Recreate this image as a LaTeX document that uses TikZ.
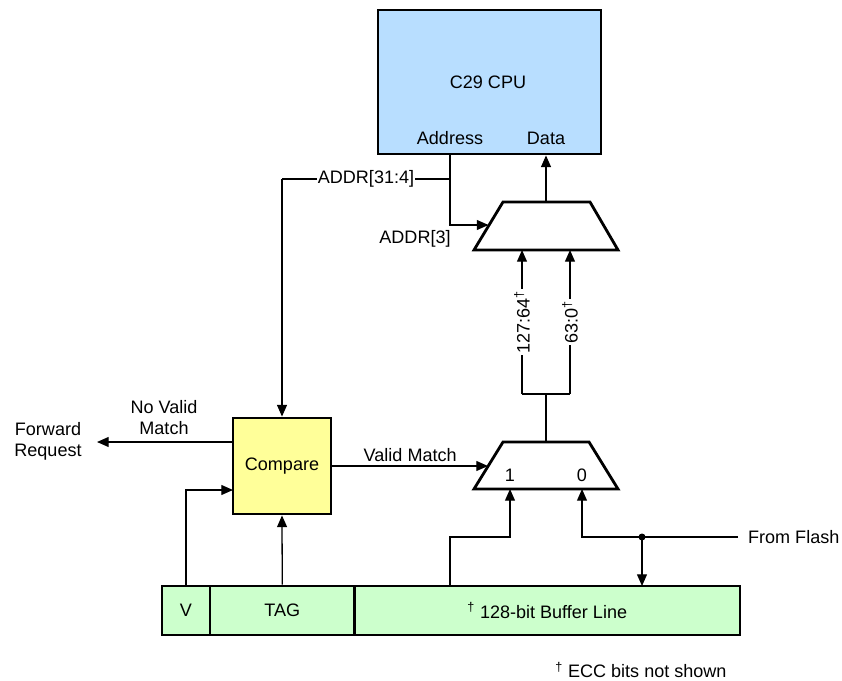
\documentclass[tikz,border=0pt]{standalone}
\usepackage{fontspec}
\setmainfont{Liberation Sans}
\usetikzlibrary{arrows.meta}
\definecolor{cpublue}{RGB}{184,222,255}
\definecolor{cmpyellow}{RGB}{255,255,153}
\definecolor{bufgreen}{RGB}{204,255,204}

\begin{document}
\begin{tikzpicture}[x=0.03cm,y=-0.03cm,font=\fontsize{15.4}{18}\selectfont,
	wire/.style={line width=1.1pt},
	arr/.style={wire,-{Triangle[length=10pt,width=8.5pt]}},
	blk/.style={draw,line width=2.4pt,inner sep=0pt},
	muxline/.style={draw,line width=2.4pt,line join=miter,fill=white},
	gap/.style={fill=white,inner sep=1pt}]
%
	\useasboundingbox (0,0) rectangle (842,681);
%
	% blocks
	\node[blk,fill=cpublue,minimum width=223*0.03cm,minimum height=144*0.03cm] (cpu) at (489.5,82) {};
	\node (cpulbl) at (488,82) {C29 CPU};
	\node (addr) at (450,138) {Address};
	\node (data) at (546,138) {Data};
	\node[blk,fill=cmpyellow,minimum width=98*0.03cm,minimum height=96*0.03cm] (cmp) at (282,466) {Compare};
	\node[blk,fill=bufgreen,minimum width=48*0.03cm,minimum height=49*0.03cm] (vbit) at (186,610.5) {V};
	\node[blk,fill=bufgreen,minimum width=144.5*0.03cm,minimum height=49*0.03cm] (tag) at (282.25,610.5) {TAG};
	\node[blk,fill=bufgreen,minimum width=385.5*0.03cm,minimum height=49*0.03cm] (line) at (547.25,610.5) {\textsuperscript{†} 128-bit Buffer Line};
%
	% muxes
	\draw[muxline] (474,250) -- (503,202) -- (590,202) -- (618,250) -- cycle;
	\draw[muxline] (474,489) -- (503,442) -- (589,442) -- (618,489) -- cycle;
	\coordinate (hisel) at (488.5,225);
	\coordinate (hiout) at (546,202);
	\coordinate (loout) at (546,442);
	\coordinate (losel) at (488,466);
	\node (one) at (510,475) {1};
	\node (zero) at (582,475) {0};
%
	% address side
	\coordinate (tap) at (450,179);
	\draw[arr] (cpu.south -| addr) -- (tap) -- (450,225) -- (hisel);
	\draw[wire] (tap) -- (282,179);
	\draw[arr] (282,179) -- (cmp.north);
	\node[gap] (a314) at (366,179) {ADDR[31:4]};
	\node (a3) at (415,239) {ADDR[3]};
	\draw[arr] (hiout) -- (cpu.south -| data);
%
	% data split
	\draw[wire] (loout) -- (546,394);
	\draw[arr] (522,394) -- (522,250);
	\draw[arr] (570,394) -- (570,250);
	\draw[wire] (522,394) -- (570,394);
	\node[gap,rotate=90] (hi) at (522,322) {127:64\textsuperscript{†}};
	\node[gap,rotate=90] (lo) at (570,322) {63:0\textsuperscript{†}};
%
	% compare
	\draw[arr] (cmp.east) -- (losel) node[midway,above] {Valid Match};
	\coordinate (fwdtip) at (97,442);
	\draw[arr] (cmp.west |- fwdtip) -- (fwdtip);
	\node[align=center] (nvm) at (164,418) {No Valid\\Match};
	\node[align=center] (fwd) at (48,441) {Forward\\Request};
	\coordinate (vin) at (233,490);
	\draw[arr] (vbit.north) -- (186,490) -- (vin);
	\draw[arr] (tag.north) -- (cmp.south);
%
	% buffer and flash
	\draw[arr] (450,586) -- (450,537) -| (one.south |- 0,489);
	\coordinate (dot) at (642,537);
	\node[anchor=west] (flash) at (744,537) {From Flash};
	\draw[arr] (738,537) -- (582,537) -- (582,489);
	\draw[arr] (dot) -- (642,586);
	\fill (dot) circle (3.5);
%
	\node (ecc) at (641,670) {\textsuperscript{†} ECC bits not shown};
%
\end{tikzpicture}
\end{document}
